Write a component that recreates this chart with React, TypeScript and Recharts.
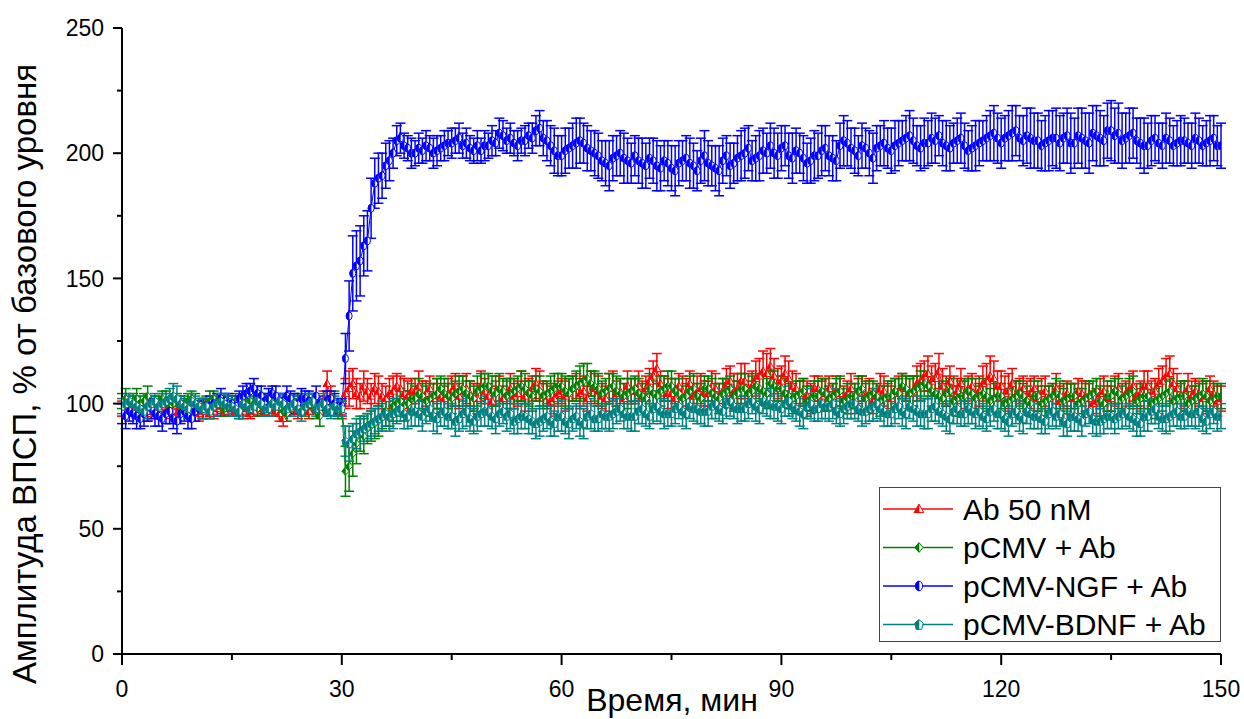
import React from 'react';
import { LineChart, Line, XAxis, YAxis, ErrorBar, Legend, Label } from 'recharts';

const FONT = "'Liberation Sans', Arial, Helvetica, sans-serif";

// time, min (one recording every 30 s)
const time = [
  0, 0.5, 1, 1.5, 2, 2.5, 3, 3.5, 4, 4.5,
  5, 5.5, 6, 6.5, 7, 7.5, 8, 8.5, 9, 9.5,
  10, 10.5, 11, 11.5, 12, 12.5, 13, 13.5, 14, 14.5,
  15, 15.5, 16, 16.5, 17, 17.5, 18, 18.5, 19, 19.5,
  20, 20.5, 21, 21.5, 22, 22.5, 23, 23.5, 24, 24.5,
  25, 25.5, 26, 26.5, 27, 27.5, 28, 28.5, 29, 29.5,
  30, 30.5, 31, 31.5, 32, 32.5, 33, 33.5, 34, 34.5,
  35, 35.5, 36, 36.5, 37, 37.5, 38, 38.5, 39, 39.5,
  40, 40.5, 41, 41.5, 42, 42.5, 43, 43.5, 44, 44.5,
  45, 45.5, 46, 46.5, 47, 47.5, 48, 48.5, 49, 49.5,
  50, 50.5, 51, 51.5, 52, 52.5, 53, 53.5, 54, 54.5,
  55, 55.5, 56, 56.5, 57, 57.5, 58, 58.5, 59, 59.5,
  60, 60.5, 61, 61.5, 62, 62.5, 63, 63.5, 64, 64.5,
  65, 65.5, 66, 66.5, 67, 67.5, 68, 68.5, 69, 69.5,
  70, 70.5, 71, 71.5, 72, 72.5, 73, 73.5, 74, 74.5,
  75, 75.5, 76, 76.5, 77, 77.5, 78, 78.5, 79, 79.5,
  80, 80.5, 81, 81.5, 82, 82.5, 83, 83.5, 84, 84.5,
  85, 85.5, 86, 86.5, 87, 87.5, 88, 88.5, 89, 89.5,
  90, 90.5, 91, 91.5, 92, 92.5, 93, 93.5, 94, 94.5,
  95, 95.5, 96, 96.5, 97, 97.5, 98, 98.5, 99, 99.5,
  100, 100.5, 101, 101.5, 102, 102.5, 103, 103.5, 104, 104.5,
  105, 105.5, 106, 106.5, 107, 107.5, 108, 108.5, 109, 109.5,
  110, 110.5, 111, 111.5, 112, 112.5, 113, 113.5, 114, 114.5,
  115, 115.5, 116, 116.5, 117, 117.5, 118, 118.5, 119, 119.5,
  120, 120.5, 121, 121.5, 122, 122.5, 123, 123.5, 124, 124.5,
  125, 125.5, 126, 126.5, 127, 127.5, 128, 128.5, 129, 129.5,
  130, 130.5, 131, 131.5, 132, 132.5, 133, 133.5, 134, 134.5,
  135, 135.5, 136, 136.5, 137, 137.5, 138, 138.5, 139, 139.5,
  140, 140.5, 141, 141.5, 142, 142.5, 143, 143.5, 144, 144.5,
  145, 145.5, 146, 146.5, 147, 147.5, 148, 148.5, 149, 149.5,
  150,
];

// Ab 50 nM
const abValues = [
  98, 97, 99, 98, 97, 99, 98, 96, 97, 98,
  98, 99, 97, 98, 97, 96, 99, 98, 97, 99,
  98, 96, 97, 99, 96, 97, 98, 99, 97, 98,
  98, 97, 99, 97, 98, 96, 97, 99, 98, 97,
  98, 99, 97, 96, 94, 97, 98, 99, 97, 98,
  98, 97, 99, 98, 97, 101, 108, 103, 99, 98,
  97, 104, 106, 108, 104, 103, 107, 105, 103, 106,
  105, 103, 102, 104, 105, 107, 106, 104, 103, 105,
  105, 107, 103, 104, 106, 102, 104, 103, 102, 104,
  105, 107, 103, 105, 106, 104, 103, 102, 107, 105,
  103, 101, 105, 106, 102, 104, 106, 103, 104, 107,
  103, 105, 106, 108, 107, 104, 103, 101, 102, 104,
  105, 103, 104, 106, 107, 104, 105, 102, 108, 106,
  105, 103, 102, 106, 107, 104, 105, 102, 107, 105,
  105, 107, 103, 106, 109, 111, 114, 108, 106, 104,
  104, 102, 107, 105, 104, 108, 103, 105, 106, 104,
  104, 107, 106, 103, 105, 108, 109, 105, 106, 109,
  109, 106, 107, 110, 111, 113, 112, 115, 111, 108,
  109, 112, 110, 107, 106, 104, 105, 103, 102, 106,
  106, 103, 104, 106, 103, 105, 104, 102, 104, 106,
  102, 105, 106, 103, 104, 101, 103, 106, 105, 103,
  102, 104, 105, 107, 106, 104, 105, 108, 109, 111,
  112, 109, 110, 113, 107, 105, 109, 106, 105, 108,
  104, 106, 107, 104, 105, 108, 109, 111, 110, 107,
  107, 104, 105, 108, 103, 105, 106, 103, 104, 106,
  102, 104, 105, 102, 103, 106, 101, 103, 104, 102,
  102, 105, 104, 103, 102, 100, 101, 104, 105, 102,
  102, 105, 106, 103, 104, 106, 107, 103, 104, 107,
  107, 104, 105, 108, 109, 111, 112, 108, 106, 103,
  104, 106, 103, 105, 104, 102, 103, 106, 104, 101,
  102,
];
const abErrors = [
  3, 2, 2, 3, 3, 2, 2, 3, 3, 2,
  2, 3, 3, 2, 2, 3, 3, 2, 2, 3,
  2, 3, 3, 2, 2, 3, 3, 2, 2, 3,
  3, 2, 2, 3, 3, 2, 2, 3, 3, 2,
  3, 2, 2, 3, 3, 2, 2, 3, 3, 2,
  2, 3, 3, 2, 2, 4, 5, 4, 3, 2,
  3, 6, 7, 6, 6, 5, 6, 5, 5, 6,
  6, 5, 5, 6, 6, 5, 5, 6, 6, 5,
  5, 6, 6, 5, 5, 6, 6, 5, 5, 6,
  6, 5, 5, 6, 6, 5, 5, 6, 6, 5,
  5, 6, 6, 5, 5, 6, 6, 5, 5, 6,
  6, 5, 5, 6, 6, 5, 5, 6, 6, 5,
  5, 6, 6, 5, 5, 6, 6, 5, 5, 6,
  6, 5, 5, 6, 6, 5, 5, 6, 6, 5,
  5, 6, 6, 5, 5, 6, 6, 5, 5, 6,
  6, 5, 5, 6, 6, 5, 5, 6, 6, 5,
  5, 6, 6, 5, 5, 6, 6, 7, 6, 7,
  7, 6, 6, 7, 7, 8, 8, 7, 7, 6,
  6, 7, 7, 6, 6, 5, 5, 6, 6, 5,
  5, 6, 6, 5, 5, 6, 6, 5, 5, 6,
  6, 5, 5, 6, 6, 5, 5, 6, 6, 5,
  5, 6, 6, 5, 5, 6, 6, 7, 7, 6,
  7, 6, 6, 7, 7, 6, 6, 5, 5, 6,
  6, 5, 5, 6, 6, 7, 7, 8, 7, 6,
  6, 7, 7, 6, 6, 5, 5, 6, 6, 5,
  5, 6, 6, 5, 5, 6, 6, 5, 5, 6,
  6, 5, 5, 6, 6, 5, 5, 6, 6, 5,
  5, 6, 6, 5, 5, 6, 6, 5, 5, 6,
  6, 5, 5, 6, 6, 7, 7, 6, 6, 5,
  5, 6, 6, 5, 5, 6, 6, 5, 5, 6,
  5,
];

// pCMV + Ab
const pcmvValues = [
  101, 102, 100, 101, 102, 100, 101, 103, 99, 100,
  100, 102, 101, 99, 100, 101, 99, 100, 101, 102,
  100, 98, 99, 100, 101, 102, 101, 99, 98, 100,
  100, 101, 98, 99, 100, 101, 100, 98, 99, 100,
  101, 99, 100, 98, 97, 96, 99, 100, 101, 101,
  98, 100, 99, 97, 95, 98, 99, 100, 101, 97,
  98, 73, 75, 80, 84, 88, 87, 90, 91, 92,
  93, 95, 97, 96, 99, 100, 101, 99, 100, 102,
  102, 104, 103, 101, 102, 103, 104, 106, 104, 103,
  102, 104, 105, 106, 104, 103, 102, 105, 106, 107,
  107, 105, 104, 106, 105, 103, 104, 105, 106, 107,
  106, 104, 103, 106, 105, 103, 104, 105, 106, 107,
  107, 105, 104, 106, 107, 108, 109, 110, 108, 107,
  106, 104, 105, 106, 107, 105, 104, 103, 104, 105,
  106, 104, 103, 102, 106, 104, 103, 105, 106, 107,
  107, 105, 104, 102, 103, 105, 106, 103, 102, 106,
  106, 104, 103, 102, 104, 105, 106, 103, 104, 106,
  106, 104, 105, 107, 106, 105, 104, 108, 107, 106,
  106, 104, 103, 102, 103, 104, 105, 101, 102, 103,
  103, 105, 104, 102, 103, 104, 105, 101, 102, 103,
  103, 105, 106, 102, 103, 104, 103, 101, 102, 103,
  103, 105, 104, 107, 106, 104, 105, 106, 107, 108,
  107, 105, 104, 103, 102, 104, 105, 101, 102, 103,
  103, 105, 104, 102, 103, 104, 103, 101, 102, 103,
  103, 100, 101, 102, 103, 104, 103, 101, 100, 103,
  103, 100, 101, 102, 103, 104, 103, 101, 102, 103,
  103, 100, 101, 102, 103, 104, 105, 101, 100, 103,
  103, 105, 104, 102, 103, 104, 105, 101, 102, 103,
  103, 100, 101, 102, 103, 104, 105, 101, 102, 103,
  103, 100, 101, 102, 103, 104, 103, 101, 102, 103,
  103,
];
const pcmvErrors = [
  3, 4, 3, 3, 4, 3, 3, 4, 3, 3,
  3, 3, 4, 3, 3, 3, 4, 3, 3, 3,
  4, 3, 3, 3, 4, 3, 3, 4, 3, 3,
  3, 3, 4, 3, 3, 4, 3, 3, 3, 4,
  3, 3, 4, 3, 3, 3, 3, 4, 3, 3,
  3, 4, 3, 3, 4, 3, 3, 3, 4, 3,
  3, 10, 10, 9, 8, 7, 7, 6, 6, 6,
  6, 5, 6, 5, 6, 5, 5, 6, 5, 6,
  5, 6, 5, 6, 6, 5, 6, 5, 6, 5,
  6, 5, 6, 5, 5, 6, 5, 6, 6, 5,
  5, 6, 5, 6, 5, 6, 6, 5, 5, 6,
  6, 5, 6, 5, 6, 5, 5, 6, 6, 5,
  5, 6, 6, 5, 6, 7, 7, 6, 5, 6,
  6, 5, 5, 6, 5, 6, 6, 5, 6, 5,
  5, 6, 5, 6, 6, 5, 5, 6, 5, 6,
  6, 5, 6, 5, 5, 6, 6, 5, 6, 5,
  5, 6, 5, 6, 6, 5, 5, 6, 5, 6,
  6, 5, 6, 5, 5, 6, 6, 5, 6, 5,
  5, 6, 5, 6, 6, 5, 5, 6, 5, 6,
  6, 5, 6, 5, 5, 6, 6, 5, 6, 5,
  5, 6, 5, 6, 6, 5, 5, 6, 5, 6,
  6, 5, 6, 5, 5, 6, 6, 5, 6, 5,
  5, 6, 5, 6, 6, 5, 5, 6, 5, 6,
  6, 5, 6, 5, 5, 6, 6, 5, 6, 5,
  5, 6, 5, 6, 6, 5, 5, 6, 5, 6,
  6, 5, 6, 5, 5, 6, 6, 5, 6, 5,
  5, 6, 5, 6, 6, 5, 5, 6, 5, 6,
  6, 5, 6, 5, 5, 6, 6, 5, 6, 5,
  5, 6, 5, 6, 6, 5, 5, 6, 5, 6,
  6, 5, 6, 5, 5, 6, 6, 5, 6, 5,
  5,
];

// pCMV-NGF + Ab
const ngfValues = [
  96, 95, 97, 96, 95, 94, 96, 97, 98, 96,
  95, 94, 96, 97, 94, 93, 96, 97, 95, 94,
  97, 98, 98, 99, 99, 100, 100, 102, 101, 100,
  100, 99, 102, 103, 104, 105, 106, 104, 103, 101,
  102, 104, 103, 101, 101, 103, 102, 100, 100, 102,
  102, 101, 101, 103, 100, 99, 101, 102, 100, 99,
  99, 118, 135, 152, 155, 157, 163, 165, 178, 188,
  190, 191, 195, 197, 200, 205, 206, 203, 202, 200,
  200, 202, 201, 203, 202, 200, 201, 202, 203, 204,
  204, 205, 206, 203, 204, 202, 201, 203, 201, 203,
  203, 205, 204, 208, 207, 205, 206, 204, 203, 205,
  205, 207, 206, 209, 210, 206, 205, 203, 201, 199,
  199, 201, 202, 203, 204, 205, 204, 202, 201, 200,
  199, 197, 196, 195, 198, 199, 200, 198, 197, 196,
  199, 197, 196, 195, 198, 197, 195, 194, 197, 196,
  194, 193, 196, 197, 198, 196, 195, 193, 197, 199,
  196, 195, 194, 193, 197, 199, 195, 196, 198, 199,
  200, 202, 197, 198, 199, 201, 200, 203, 200, 199,
  202, 203, 199, 198, 201, 200, 198, 196, 197, 199,
  199, 201, 202, 199, 198, 197, 203, 205, 204, 202,
  201, 199, 203, 202, 200, 198, 202, 203, 204, 202,
  201, 203, 204, 205, 206, 207, 205, 203, 202, 204,
  204, 206, 205, 207, 204, 203, 202, 204, 205, 206,
  203, 201, 202, 203, 204, 205, 206, 207, 208, 206,
  204, 206, 207, 208, 209, 206, 205, 207, 206, 205,
  205, 203, 204, 205, 206, 206, 204, 206, 207, 204,
  204, 207, 206, 205, 204, 208, 207, 206, 205, 209,
  209, 207, 208, 205, 206, 207, 208, 205, 204, 203,
  203, 205, 206, 204, 203, 206, 205, 203, 204, 205,
  205, 204, 203, 206, 205, 203, 204, 205, 206, 203,
  203,
];
const ngfErrors = [
  4, 5, 4, 4, 5, 4, 5, 4, 4, 5,
  4, 5, 4, 5, 4, 5, 4, 4, 5, 4,
  4, 3, 4, 3, 4, 3, 4, 4, 3, 4,
  3, 4, 3, 4, 4, 3, 4, 3, 4, 3,
  4, 3, 4, 3, 3, 4, 3, 4, 3, 4,
  3, 4, 3, 4, 3, 3, 4, 3, 4, 3,
  3, 10, 14, 15, 14, 14, 12, 12, 12, 10,
  10, 9, 9, 8, 6, 6, 6, 5, 5, 6,
  5, 6, 5, 6, 5, 6, 6, 5, 6, 5,
  6, 5, 6, 5, 6, 5, 5, 6, 5, 6,
  5, 6, 5, 6, 6, 5, 6, 5, 6, 5,
  6, 5, 6, 6, 7, 7, 8, 8, 9, 8,
  8, 9, 8, 9, 10, 9, 8, 9, 8, 9,
  9, 8, 9, 10, 9, 8, 9, 10, 9, 8,
  8, 9, 10, 9, 8, 9, 10, 9, 8, 9,
  9, 10, 9, 8, 9, 10, 9, 8, 9, 10,
  9, 8, 9, 10, 9, 8, 9, 8, 9, 10,
  10, 9, 8, 9, 10, 9, 8, 9, 10, 9,
  9, 8, 9, 10, 9, 8, 9, 8, 9, 10,
  9, 10, 9, 8, 9, 8, 9, 10, 9, 8,
  9, 8, 9, 8, 9, 10, 9, 8, 9, 8,
  9, 10, 9, 8, 9, 10, 9, 8, 9, 10,
  9, 10, 9, 8, 9, 10, 9, 8, 9, 10,
  9, 8, 9, 10, 9, 8, 9, 10, 11, 10,
  10, 9, 10, 11, 10, 9, 10, 11, 12, 11,
  11, 10, 11, 12, 11, 12, 11, 10, 11, 12,
  10, 11, 12, 11, 12, 11, 12, 11, 10, 11,
  12, 11, 12, 11, 10, 11, 10, 9, 10, 11,
  9, 10, 9, 8, 9, 10, 9, 8, 9, 10,
  9, 8, 9, 10, 9, 8, 9, 10, 9, 8,
  9,
];

// pCMV-BDNF + Ab
const bdnfValues = [
  99, 100, 101, 100, 99, 98, 97, 99, 100, 101,
  99, 100, 101, 102, 103, 102, 100, 99, 98, 101,
  100, 99, 98, 99, 97, 99, 100, 101, 100, 99,
  99, 98, 97, 100, 99, 98, 99, 101, 100, 98,
  98, 100, 99, 101, 100, 98, 99, 100, 98, 97,
  99, 100, 101, 98, 99, 100, 98, 97, 99, 98,
  98, 85, 84, 86, 88, 89, 90, 91, 92, 93,
  94, 95, 96, 95, 96, 97, 98, 96, 95, 97,
  97, 96, 95, 97, 98, 95, 94, 96, 97, 95,
  95, 93, 94, 96, 97, 94, 93, 95, 96, 97,
  97, 95, 94, 96, 97, 95, 96, 93, 94, 95,
  95, 94, 93, 92, 93, 94, 95, 93, 92, 95,
  95, 93, 92, 94, 95, 93, 92, 95, 96, 94,
  94, 96, 95, 95, 96, 97, 98, 96, 95, 95,
  95, 97, 98, 96, 95, 98, 99, 97, 96, 96,
  96, 98, 99, 97, 96, 99, 98, 98, 97, 97,
  97, 99, 100, 98, 97, 100, 101, 99, 98, 98,
  98, 100, 101, 99, 98, 101, 100, 100, 99, 99,
  98, 100, 101, 99, 98, 97, 96, 99, 100, 98,
  98, 100, 99, 99, 100, 97, 96, 98, 99, 100,
  100, 98, 97, 97, 98, 99, 100, 98, 97, 96,
  96, 98, 99, 97, 96, 99, 98, 97, 96, 96,
  96, 98, 99, 97, 96, 95, 94, 97, 98, 96,
  96, 98, 97, 96, 97, 95, 94, 97, 98, 96,
  96, 94, 93, 96, 97, 95, 94, 97, 96, 95,
  95, 94, 93, 96, 97, 95, 96, 93, 92, 95,
  95, 94, 93, 96, 97, 94, 93, 93, 94, 95,
  95, 94, 95, 96, 97, 95, 94, 93, 92, 95,
  95, 97, 98, 95, 94, 94, 95, 96, 97, 95,
  95, 97, 96, 96, 97, 94, 93, 96, 97, 95,
  95,
];
const bdnfErrors = [
  3, 4, 3, 3, 4, 3, 3, 4, 3, 3,
  3, 4, 3, 4, 5, 5, 3, 3, 4, 3,
  3, 3, 4, 3, 3, 4, 3, 3, 4, 3,
  4, 3, 3, 3, 4, 3, 3, 4, 3, 3,
  3, 3, 4, 3, 3, 3, 4, 3, 3, 4,
  3, 4, 3, 3, 3, 4, 3, 3, 4, 3,
  3, 6, 7, 6, 6, 5, 5, 5, 5, 5,
  5, 6, 5, 6, 6, 5, 5, 6, 5, 6,
  6, 5, 6, 5, 5, 6, 6, 5, 6, 5,
  5, 6, 5, 6, 6, 5, 5, 6, 5, 6,
  6, 5, 6, 5, 5, 6, 6, 5, 6, 5,
  5, 6, 5, 6, 6, 5, 5, 6, 5, 6,
  6, 5, 6, 5, 5, 6, 6, 5, 6, 5,
  5, 6, 5, 6, 6, 5, 5, 6, 5, 6,
  6, 5, 6, 5, 5, 6, 6, 5, 6, 5,
  5, 6, 5, 6, 6, 5, 5, 6, 5, 6,
  6, 5, 6, 5, 5, 6, 6, 5, 6, 5,
  5, 6, 5, 6, 6, 5, 5, 6, 5, 6,
  6, 5, 6, 5, 5, 6, 6, 5, 6, 5,
  5, 6, 5, 6, 6, 5, 5, 6, 5, 6,
  6, 5, 6, 5, 5, 6, 6, 5, 6, 5,
  5, 6, 5, 6, 6, 5, 5, 6, 5, 6,
  6, 5, 6, 5, 5, 6, 6, 5, 6, 5,
  5, 6, 5, 6, 6, 5, 5, 6, 5, 6,
  6, 5, 6, 5, 5, 6, 6, 5, 6, 5,
  5, 6, 5, 6, 6, 5, 5, 6, 5, 6,
  6, 5, 6, 5, 5, 6, 6, 5, 6, 5,
  5, 6, 5, 6, 6, 5, 5, 6, 5, 6,
  6, 5, 6, 5, 5, 6, 6, 5, 6, 5,
  5, 6, 5, 6, 6, 5, 5, 6, 5, 6,
  5,
];

const seriesKeys = ['ab', 'pcmv', 'ngf', 'bdnf'];
const seriesNames = ['Ab 50 nM', 'pCMV + Ab', 'pCMV-NGF + Ab', 'pCMV-BDNF + Ab'];
const seriesColors = ['#ff0000', '#008000', '#0000ff', '#008080'];
const seriesShapes = ['triangle', 'diamond', 'circle', 'pentagon'];

const xTicks = [0, 15, 30, 45, 60, 75, 90, 105, 120, 135, 150];
const yTicks = [0, 25, 50, 75, 100, 125, 150, 175, 200, 225, 250];
const xTitle = 'Время, мин';
const yTitle = 'Амплитуда ВПСП, % от базового уровня';

const data = time.map((t, i) => ({
  t,
  ab: abValues[i],
  abErr: abErrors[i],
  pcmv: pcmvValues[i],
  pcmvErr: pcmvErrors[i],
  ngf: ngfValues[i],
  ngfErr: ngfErrors[i],
  bdnf: bdnfValues[i],
  bdnfErr: bdnfErrors[i],
}));

function marker(shape: string, cx: number, cy: number, color: string, s: number) {
  const h = 4 * s;
  const w = 3.5 * s;
  let outline = '';
  let left = '';
  if (shape === 'triangle') {
    outline = `M${cx},${cy - h}L${cx + h},${cy + h * 0.75}L${cx - h},${cy + h * 0.75}Z`;
    left = `M${cx},${cy - h}L${cx - h},${cy + h * 0.75}L${cx},${cy + h * 0.75}Z`;
  } else if (shape === 'diamond') {
    outline = `M${cx},${cy - h}L${cx + w},${cy}L${cx},${cy + h}L${cx - w},${cy}Z`;
    left = `M${cx},${cy - h}L${cx - w},${cy}L${cx},${cy + h}Z`;
  } else if (shape === 'circle') {
    const rx = w - 0.5 * s;
    outline = `M${cx},${cy - h}A${rx},${h} 0 0 1 ${cx},${cy + h}A${rx},${h} 0 0 1 ${cx},${cy - h}Z`;
    left = `M${cx},${cy - h}A${rx},${h} 0 0 0 ${cx},${cy + h}Z`;
  } else {
    outline = `M${cx},${cy - h}L${cx + w},${cy - 0.3 * h}L${cx + 0.65 * w},${cy + h}L${cx - 0.65 * w},${cy + h}L${cx - w},${cy - 0.3 * h}Z`;
    left = `M${cx},${cy - h}L${cx - w},${cy - 0.3 * h}L${cx - 0.65 * w},${cy + h}L${cx},${cy + h}Z`;
  }
  return (
    <g>
      <path d={outline} fill="#ffffff" stroke={color} strokeWidth={1} />
      <path d={left} fill={color} stroke={color} strokeWidth={0.6} />
    </g>
  );
}

const dotFor = (shape: string, color: string) => (props: any) => {
  const { cx, cy, index } = props;
  if (typeof cx !== 'number' || typeof cy !== 'number') return <g key={`e${index}`} />;
  return <g key={`d${index}`}>{marker(shape, cx, cy, color, 1)}</g>;
};

const XTick = (props: any) => {
  const { x, y, payload } = props;
  const v = payload.value;
  const major = v % 30 === 0;
  return (
    <g>
      <line x1={x} x2={x} y1={y - 10} y2={major ? y + 1 : y - 4} stroke="#000" strokeWidth={2} />
      {major && (
        <text x={x} y={y + 33} textAnchor="middle" fontSize={23} fontFamily={FONT} fill="#000">
          {v}
        </text>
      )}
    </g>
  );
};

const YTick = (props: any) => {
  const { x, y, payload } = props;
  const v = payload.value;
  const major = v % 50 === 0;
  return (
    <g>
      <line x1={major ? x - 1 : x + 3} x2={x + 8} y1={y} y2={y} stroke="#000" strokeWidth={2} />
      {major && (
        <text x={x - 10} y={y} dy="0.36em" textAnchor="end" fontSize={23} fontFamily={FONT} fill="#000">
          {v}
        </text>
      )}
    </g>
  );
};

const XTitle = () => (
  <text x={672} y={711} textAnchor="middle" fontSize={32} fontFamily={FONT} fill="#000">
    {xTitle}
  </text>
);

const YTitle = () => (
  <text x={36} y={374} transform="rotate(-90 36 374)" textAnchor="middle" fontSize={33} fontFamily={FONT} fill="#000">
    {yTitle}
  </text>
);

const renderLegend = () => (
  <div
    style={{
      width: 342,
      height: 155,
      border: '1.5px solid #444',
      boxSizing: 'border-box',
      background: '#fff',
    }}
  >
    <svg width={339} height={152} style={{ display: 'block' }}>
      {seriesNames.map((name, i) => {
        const cy = 21 + i * 38.5;
        return (
          <g key={name}>
            <line x1={3} x2={73} y1={cy} y2={cy} stroke={seriesColors[i]} strokeWidth={1.5} />
            {marker(seriesShapes[i], 39, cy, seriesColors[i], 1.2)}
            <text x={83} y={cy + 10.5} fontSize={30} fontFamily={FONT} fill="#000">
              {name}
            </text>
          </g>
        );
      })}
    </svg>
  </div>
);

export default function App() {
  return (
    <div style={{ position: 'absolute', left: 0, top: 0, width: 1244, height: 719, background: '#fff' }}>
      <LineChart width={1244} height={719} data={data} margin={{ top: 28, right: 23, bottom: 0, left: 0 }}>
        <XAxis
          type="number"
          dataKey="t"
          domain={[0, 150]}
          ticks={xTicks}
          interval={0}
          height={65}
          tickSize={10}
          tickMargin={0}
          tickLine={false}
          axisLine={{ stroke: '#000', strokeWidth: 2 }}
          tick={XTick}
          allowDataOverflow
        >
          <Label content={XTitle} />
        </XAxis>
        <YAxis
          type="number"
          domain={[0, 250]}
          ticks={yTicks}
          interval={0}
          width={122}
          tickSize={8}
          tickMargin={0}
          tickLine={false}
          axisLine={{ stroke: '#000', strokeWidth: 2 }}
          tick={YTick}
          allowDataOverflow
        >
          <Label content={YTitle} />
        </YAxis>
        {seriesKeys.map((key, i) => (
          <Line
            key={key}
            type="linear"
            dataKey={key}
            name={seriesNames[i]}
            stroke={seriesColors[i]}
            strokeWidth={1}
            dot={dotFor(seriesShapes[i], seriesColors[i])}
            activeDot={false}
            isAnimationActive={false}
          >
            <ErrorBar
              dataKey={`${key}Err`}
              width={5}
              stroke={seriesColors[i]}
              strokeWidth={1.5}
              direction="y"
              isAnimationActive={false}
            />
          </Line>
        ))}
        <Legend
          content={renderLegend}
          layout="vertical"
          align="center"
          verticalAlign="middle"
          wrapperStyle={{ left: 879, top: 487, width: 342, height: 155 }}
        />
      </LineChart>
    </div>
  );
}
